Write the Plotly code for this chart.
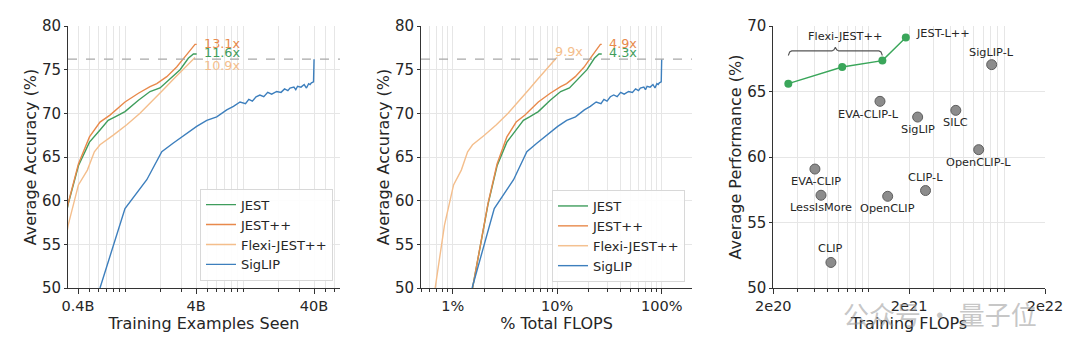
import math
import plotly.graph_objects as go

# ---------------- data: panels 1 & 2 ----------------
jest_examples_b = [0.235, 0.33, 0.403, 0.50, 0.614, 0.72, 0.824, 1.0, 1.30, 1.63, 1.98, 2.41, 2.93, 3.44, 3.80, 4.05]
jest_flops_pct = [1.55, 2.18, 2.66, 3.30, 4.05, 4.75, 5.44, 6.60, 8.58, 10.8, 13.1, 15.9, 19.3, 22.7, 25.1, 26.7]
jest_acc = [50.0, 59.6, 64.0, 66.7, 68.1, 69.2, 69.6, 70.2, 71.5, 72.5, 72.9, 74.0, 75.0, 76.3, 76.8, 76.8]

jestpp_examples_b = [0.235, 0.33, 0.403, 0.50, 0.614, 0.746, 1.0, 1.30, 1.63, 1.86, 2.26, 2.74, 3.23, 3.68, 3.92, 4.05]
jestpp_flops_pct = [1.55, 2.18, 2.66, 3.30, 4.05, 4.92, 6.60, 8.58, 10.8, 12.3, 14.9, 18.1, 21.3, 24.3, 25.9, 26.7]
jestpp_acc = [50.0, 59.7, 64.2, 67.3, 69.0, 69.8, 71.3, 72.3, 73.05, 73.4, 74.2, 75.3, 76.5, 77.4, 77.9, 77.9]

flexi_examples_b = [0.269, 0.33, 0.403, 0.48, 0.55, 0.614, 0.796, 1.035, 1.34, 1.74, 2.11, 2.57, 3.03, 3.44, 3.80, 3.92]
flexi_flops_pct = [0.68, 0.835, 1.02, 1.21, 1.39, 1.55, 2.01, 2.62, 3.39, 4.40, 5.34, 6.50, 7.67, 8.70, 9.61, 9.92]
flexi_acc = [50.0, 57.2, 61.8, 63.5, 65.6, 66.4, 67.5, 68.7, 70.0, 71.5, 72.7, 73.9, 74.9, 75.7, 76.3, 76.4]

siglip_examples_b = [0.614, 1.0, 1.53, 1.86, 2.05, 2.57, 3.34, 4.05, 4.93, 5.99, 7.28, 8.3, 9.44, 10.5, 11.2,
                     12.0, 12.9, 13.9, 15.0, 16.2, 17.5, 19.3, 21.0, 22.5, 24.0, 25.0, 27.0, 28.0, 29.0, 31.0,
                     33.0, 34.5, 36.0, 37.0, 38.0, 39.0, 39.6, 40.0]
siglip_flops_pct = [1.535, 2.5, 3.825, 4.65, 5.125, 6.425, 8.35, 10.125, 12.325, 14.975, 18.2, 20.75, 23.6, 26.25,
                    28.0, 30.0, 32.25, 34.75, 37.5, 40.5, 43.75, 48.25, 52.5, 56.25, 60.0, 62.5, 67.5, 70.0, 72.5,
                    77.5, 82.5, 86.25, 90.0, 92.5, 95.0, 97.5, 99.0, 100.0]
siglip_acc = [50.0, 59.1, 62.4, 64.6, 65.6, 66.6, 67.7, 68.5, 69.2, 69.6, 70.4, 70.8, 71.3, 71.1, 71.6,
              71.4, 71.9, 72.1, 71.9, 72.4, 72.2, 72.5, 72.4, 72.8, 72.6, 72.9, 73.0, 72.7, 73.1, 73.0,
              73.3, 72.9, 73.4, 73.3, 73.5, 73.6, 73.6, 76.2]

speedup_examples = ["13.1x", "11.6x", "10.9x"]   # JEST++, JEST, Flexi-JEST++
speedup_flops = ["4.9x", "4.3x", "9.9x"]

x1_ticks = [0.4, 4, 40]
x1_labels = ["0.4B", "4B", "40B"]
x2_ticks = [1, 10, 100]
x2_labels = ["1%", "10%", "100%"]

# ---------------- data: panel 3 ----------------
jest_l_flops = [2.58e20, 6.43e20, 1.27e21, 1.89e21]
jest_l_perf = [65.6, 66.87, 67.36, 69.13]

baseline_names = ["EVA-CLIP-L", "SigLIP", "SILC", "SigLIP-L", "OpenCLIP-L",
                  "EVA-CLIP", "LessIsMore", "OpenCLIP", "CLIP-L", "CLIP"]
baseline_flops = [1.22e21, 2.31e21, 4.41e21, 8.1e21, 6.5e21, 4.05e20, 4.49e20, 1.39e21, 2.64e21, 5.31e20]
baseline_perf = [64.25, 63.05, 63.56, 67.05, 60.56, 59.08, 57.08, 57.0, 57.44, 51.95]

x3_ticks = [2e20, 2e21, 2e22]
x3_labels = ["2e20", "2e21", "2e22"]

# ---------------- style ----------------
C_JEST = "#3f9d5c"
C_JESTPP = "#e8894b"
C_FLEXI = "#f4be8c"
C_SIGLIP = "#3d7fbd"
C_GREEN_PT = "#3aa65a"
GRID = "#e6e6e6"
AXC = "#333333"
TXT = "#262626"
FONT = "DejaVu Sans"

label_offsets = {  # (xshift, yshift) in px
    "EVA-CLIP-L": (-11, -13), "SigLIP": (0, -12), "SILC": (0, -12.5), "SigLIP-L": (0, 12.5),
    "OpenCLIP-L": (0, -13), "EVA-CLIP": (1, -12), "LessIsMore": (0, -12), "OpenCLIP": (0, -12),
    "CLIP-L": (0, 13.5), "CLIP": (0, 14),
}


def minor_vals(lo_exp, hi_exp, scale=1.0):
    vals = []
    for e in range(lo_exp, hi_exp + 1):
        for k in range(1, 10):
            vals.append(scale * k * 10 ** e)
    return vals


# the page body adds an 8px margin; layout coordinates below are page pixels minus 8
OFF = 8
W, H = 1064, 341


def px_x(p):
    return (p - OFF) / W


def px_y(p):
    return 1 - (p - OFF) / H


dom_y = [px_y(288), px_y(26)]
dom_x1 = [px_x(68), px_x(340)]
dom_x2 = [px_x(421), px_x(692)]
dom_x3 = [px_x(773.3), px_x(1045)]

fig = go.Figure()

series = [
    ("JEST", jest_examples_b, jest_flops_pct, jest_acc, C_JEST),
    ("JEST++", jestpp_examples_b, jestpp_flops_pct, jestpp_acc, C_JESTPP),
    ("Flexi-JEST++", flexi_examples_b, flexi_flops_pct, flexi_acc, C_FLEXI),
    ("SigLIP", siglip_examples_b, siglip_flops_pct, siglip_acc, C_SIGLIP),
]
for name, xe, xf, yv, col in series:
    fig.add_trace(go.Scatter(x=xe, y=yv, mode="lines", name=name, line=dict(color=col, width=1.4),
                             xaxis="x", yaxis="y", legend="legend", showlegend=True))
    fig.add_trace(go.Scatter(x=xf, y=yv, mode="lines", name=name, line=dict(color=col, width=1.4),
                             xaxis="x2", yaxis="y2", legend="legend2", showlegend=True))

# panel 3: brace over the Flexi points
lx0 = math.log10(jest_l_flops[0])
lx2 = math.log10(jest_l_flops[2])
mid = (lx0 + lx2) / 2
d = 0.025
y_end, y_bar, y_tip = 67.75, 68.1, 68.38
bx = [lx0, lx0 + d * 0.4, lx0 + d, mid - d, mid - d * 0.4, mid, mid + d * 0.4, mid + d, lx2 - d, lx2 - d * 0.4, lx2]
by = [y_end, y_bar - 0.08, y_bar, y_bar, y_bar + 0.08, y_tip, y_bar + 0.08, y_bar, y_bar, y_bar - 0.08, y_end]
fig.add_trace(go.Scatter(x=[10 ** v for v in bx], y=by, mode="lines", line=dict(color="#555555", width=1.1),
                         xaxis="x3", yaxis="y3", showlegend=False, hoverinfo="skip"))

fig.add_trace(go.Scatter(x=baseline_flops, y=baseline_perf, mode="markers",
                         marker=dict(size=10, color="#8c8c8c", line=dict(color="#5e5e5e", width=1)),
                         xaxis="x3", yaxis="y3", showlegend=False))
fig.add_trace(go.Scatter(x=jest_l_flops, y=jest_l_perf, mode="lines+markers",
                         line=dict(color=C_GREEN_PT, width=1.4),
                         marker=dict(size=8, color=C_GREEN_PT),
                         xaxis="x3", yaxis="y3", showlegend=False))

annotations = []
# speedup labels
ends1 = [(jestpp_examples_b[-1], jestpp_acc[-1], speedup_examples[0], C_JESTPP, 5, 1),
         (jest_examples_b[-1], jest_acc[-1], speedup_examples[1], C_JEST, 5, 1.5),
         (flexi_examples_b[-1], flexi_acc[-1], speedup_examples[2], C_FLEXI, 6.5, -8)]
for xv, yv, t, c, xs, ys in ends1:
    annotations.append(dict(x=math.log10(xv), y=yv, xref="x", yref="y", text=t, showarrow=False,
                            xanchor="left", yanchor="middle", xshift=xs, yshift=ys,
                            font=dict(family=FONT, size=12.8, color=c)))
ends2 = [(jestpp_flops_pct[-1], jestpp_acc[-1], speedup_flops[0], C_JESTPP, 5, 1),
         (jest_flops_pct[-1], jest_acc[-1], speedup_flops[1], C_JEST, 5, 1.5),
         (flexi_flops_pct[-1], flexi_acc[-1], speedup_flops[2], C_FLEXI, -4, 6)]
for xv, yv, t, c, xs, ys in ends2:
    annotations.append(dict(x=math.log10(xv), y=yv, xref="x2", yref="y2", text=t, showarrow=False,
                            xanchor="left", yanchor="middle", xshift=xs, yshift=ys,
                            font=dict(family=FONT, size=12.8, color=c)))

for n, xv, yv in zip(baseline_names, baseline_flops, baseline_perf):
    xs, ys = label_offsets[n]
    annotations.append(dict(x=math.log10(xv), y=yv, xref="x3", yref="y3", text=n, showarrow=False,
                            xanchor="center", yanchor="middle", xshift=xs, yshift=ys,
                            font=dict(family=FONT, size=11.3, color=TXT)))
annotations.append(dict(x=math.log10(jest_l_flops[-1]), y=jest_l_perf[-1], xref="x3", yref="y3",
                        text="JEST-L++", showarrow=False, xanchor="left", yanchor="middle",
                        xshift=8, yshift=4, font=dict(family=FONT, size=11.3, color=TXT)))
annotations.append(dict(x=mid, y=y_tip, xref="x3", yref="y3", text="Flexi-JEST++", showarrow=False,
                        xanchor="center", yanchor="middle", xshift=10, yshift=11,
                        font=dict(family=FONT, size=11.3, color=TXT)))
# watermark
annotations.append(dict(x=px_x(940), y=px_y(313), xref="paper", yref="paper", text="公众号 · 量子位",
                        showarrow=False, xanchor="center", yanchor="middle",
                        font=dict(family="Noto Sans CJK SC", size=26, color="rgba(150,150,150,0.55)")))

shapes = []
for xr, yr in (("x", "y"), ("x2", "y2")):
    shapes.append(dict(type="line", xref=f"{xr} domain", yref=yr, x0=0, x1=1,
                       y0=siglip_acc[-1], y1=siglip_acc[-1],
                       line=dict(color="#a8a8a8", width=1.3, dash="dash")))


def xaxis_cfg(dom, rng, tv, tt, minor, title, anchor):
    return dict(domain=dom, type="log", range=rng, tickmode="array", tickvals=tv, ticktext=tt,
                showgrid=True, gridcolor=GRID, gridwidth=1, zeroline=False, automargin=False,
                showline=True, linecolor=AXC, linewidth=1, ticks="outside", ticklen=5, tickcolor=AXC,
                tickfont=dict(family=FONT, size=14.5, color=TXT),
                minor=dict(tickmode="array", tickvals=minor, ticks="outside", ticklen=3, tickcolor=AXC,
                           showgrid=True, gridcolor=GRID, gridwidth=1),
                title=dict(text=title, font=dict(family=FONT, size=16, color=TXT), standoff=3),
                anchor=anchor, fixedrange=True)


def yaxis_cfg(rng, title, anchor, dtick=5):
    return dict(domain=dom_y, range=rng, dtick=dtick, tick0=50, showgrid=True, gridcolor=GRID, gridwidth=1,
                zeroline=False, showline=True, linecolor=AXC, linewidth=1, ticks="outside", ticklen=3,
                tickcolor=AXC, tickfont=dict(family=FONT, size=15, color=TXT), automargin=False,
                title=dict(text=title, font=dict(family=FONT, size=16, color=TXT), standoff=1),
                anchor=anchor, fixedrange=True)


legend_common = dict(font=dict(family=FONT, size=13, color=TXT), bgcolor="rgba(255,255,255,0.9)",
                     bordercolor="#d8d8d8", borderwidth=1, xanchor="right", yanchor="bottom",
                     tracegroupgap=0, itemwidth=30)

fig.update_layout(
    width=W, height=H, margin=dict(l=0, r=0, t=0, b=0, autoexpand=False),
    paper_bgcolor="white", plot_bgcolor="white",
    font=dict(family=FONT, color=TXT),
    xaxis=xaxis_cfg(dom_x1, [-0.483, 1.822], x1_ticks, x1_labels, [v for v in minor_vals(-1, 1) if v not in x1_ticks],
                    "Training Examples Seen", "y"),
    yaxis=yaxis_cfg([50, 80], "Average Accuracy (%)", "x"),
    xaxis2=xaxis_cfg(dom_x2, [-0.303, 2.29], x2_ticks, x2_labels, [v for v in minor_vals(-1, 2) if v not in x2_ticks],
                     "% Total FLOPS", "y2"),
    yaxis2=yaxis_cfg([50, 80], "Average Accuracy (%)", "x2"),
    xaxis3=xaxis_cfg(dom_x3, [math.log10(2e20), math.log10(2e22)], x3_ticks, x3_labels,
                     [v for v in minor_vals(20, 22) if v not in x3_ticks], "Training FLOPs", "y3"),
    yaxis3=yaxis_cfg([50, 70], "Average Performance (%)", "x3"),
    legend=dict(x=px_x(333), y=px_y(280.7), **legend_common),
    legend2=dict(x=px_x(685), y=px_y(282), **legend_common),
    annotations=annotations, shapes=shapes,
)

fig.write_html("out.html")
